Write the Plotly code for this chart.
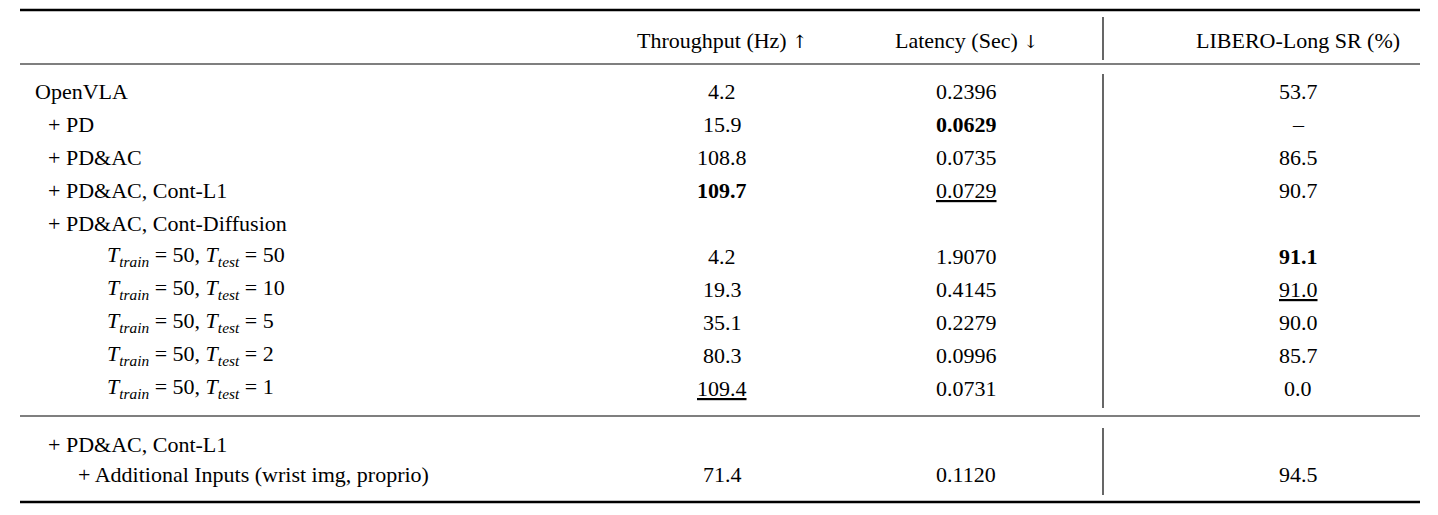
import plotly.graph_objects as go

headers = ["Throughput (Hz) <span style='font-family:DejaVu Serif;font-size:18px'>↑</span>",
           "Latency (Sec) <span style='font-family:DejaVu Serif;font-size:18px'>↓</span>",
           "LIBERO-Long SR (%)"]
methods = ["OpenVLA", "+ PD", "+ PD&AC", "+ PD&AC, Cont-L1", "+ PD&AC, Cont-Diffusion",
           "T50", "T10", "T5", "T2", "T1"]
t_test = {"T50": 50, "T10": 10, "T5": 5, "T2": 2, "T1": 1}
throughput = ["4.2", "15.9", "108.8", "109.7", "", "4.2", "19.3", "35.1", "80.3", "109.4"]
latency = ["0.2396", "0.0629", "0.0735", "0.0729", "", "1.9070", "0.4145", "0.2279", "0.0996", "0.0731"]
sr = ["53.7", "–", "86.5", "90.7", "", "91.1", "91.0", "90.0", "85.7", "0.0"]
bold = {("tp", 3), ("lat", 1), ("sr", 5)}
under = {("tp", 9), ("lat", 3), ("sr", 6)}
extra_methods = ["+ PD&AC, Cont-L1", "+ Additional Inputs (wrist img, proprio)"]
extra_tp, extra_lat, extra_sr = "71.4", "0.1120", "94.5"

W, H = 1438, 515
OFF = 8  # default page margin
FONT = dict(family="Liberation Serif, Times New Roman, serif", size=22, color="black")
col_x = [722, 966, 1298]
row_y = [91 + 33 * i for i in range(len(methods))]
extra_y = [444, 474]

fig = go.Figure()
ann = []
def add(x, y, text, anchor="center"):
    ann.append(dict(x=x, y=y, text=text, xref="x", yref="y", showarrow=False,
                    xanchor=anchor, yanchor="middle", font=FONT))

def fmt(val, key, i):
    t = val
    if (key, i) in bold:
        t = f"<b>{t}</b>"
    if (key, i) in under:
        t = f"<span style='text-decoration:underline'>{t}</span>"
    return t

for x, h in zip(col_x, headers):
    add(x, 40, h)
for i, m in enumerate(methods):
    if m in t_test:
        txt = f"<i>T</i><sub><i>train</i></sub> = 50, <i>T</i><sub><i>test</i></sub> = {t_test[m]}"
        add(105, row_y[i], txt, "left")
    else:
        add(33 if i == 0 else 46, row_y[i], m, "left")
    for key, arr, x in (("tp", throughput, col_x[0]), ("lat", latency, col_x[1]), ("sr", sr, col_x[2])):
        if arr[i]:
            add(x, row_y[i], fmt(arr[i], key, i))
add(46, extra_y[0], extra_methods[0], "left")
add(76, extra_y[1], extra_methods[1], "left")
for x, v in zip(col_x, [extra_tp, extra_lat, extra_sr]):
    add(x, extra_y[1], v)

shapes = []
def hline(y, w):
    shapes.append(dict(type="line", xref="x", yref="y", x0=20, x1=1420, y0=y, y1=y,
                       line=dict(color="black", width=w)))
def vline(y0, y1):
    shapes.append(dict(type="line", xref="x", yref="y", x0=1103, x1=1103, y0=y0, y1=y1,
                       line=dict(color="black", width=1.2)))
hline(10, 2.5); hline(64, 1.2); hline(416, 1.2); hline(502, 2.5)
vline(17, 60); vline(74, 408); vline(428, 495)

fig.update_layout(width=W, height=H, margin=dict(l=0, r=0, t=0, b=0),
                  paper_bgcolor="white", plot_bgcolor="white",
                  xaxis=dict(range=[OFF, W + OFF], visible=False, fixedrange=True),
                  yaxis=dict(range=[H + OFF, OFF], visible=False, fixedrange=True),
                  annotations=ann, shapes=shapes, showlegend=False)
fig.write_html("out.html")
